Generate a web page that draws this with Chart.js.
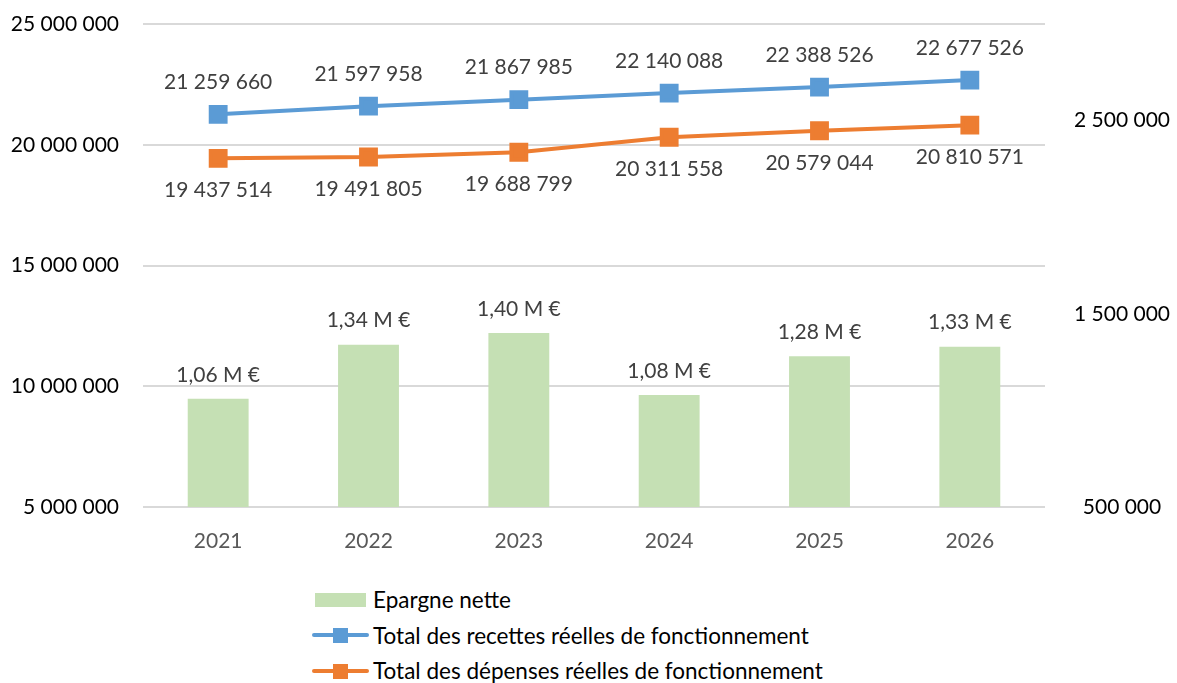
<!DOCTYPE html>
<html lang="fr">
<head>
<meta charset="utf-8">
<title>Epargne nette</title>
<script src="https://cdn.jsdelivr.net/npm/chart.js@4.4.1/dist/chart.umd.min.js"></script>
<style>
  body { margin: 0; background: #fff; font-family: Lato, 'Open Sans', sans-serif; }
  .wrap { position: relative; width: 1177px; height: 683px; }
  #chart { display: block; }
  .legend { position: absolute; left: 312px; top: 582px; }
  .legend-item { display: flex; align-items: center; height: 35.5px; font-size: 22.5px; color: #000; }
  .swatch { width: 57px; height: 14px; position: relative; margin-right: 4px; }
  .swatch.bar { background: #C5E0B4; width: 51px; margin-left: 3px; margin-right: 7px; }
  .swatch.line::before { content: ''; position: absolute; left: 0; right: 0; top: 5px; height: 4px; border-radius: 2px; }
  .swatch.line::after { content: ''; position: absolute; left: 21px; top: 0; width: 15px; height: 15px; }
  .blue::before, .blue::after { background: #5B9BD5; }
  .orange::before, .orange::after { background: #ED7D31; }
</style>
</head>
<body>
<div class="wrap">
  <canvas id="chart" width="1177" height="570"></canvas>
  <div class="legend">
    <div class="legend-item"><span class="swatch bar"></span>Epargne nette</div>
    <div class="legend-item"><span class="swatch line blue"></span>Total des recettes réelles de fonctionnement</div>
    <div class="legend-item"><span class="swatch line orange"></span>Total des dépenses réelles de fonctionnement</div>
  </div>
</div>
<script>
const years = ['2021', '2022', '2023', '2024', '2025', '2026'];
const recettes = [21259660, 21597958, 21867985, 22140088, 22388526, 22677526];
const depenses = [19437514, 19491805, 19688799, 20311558, 20579044, 20810571];
const epargne = [1060000, 1340000, 1400000, 1080000, 1280000, 1330000];
const leftTicks = [5000000, 10000000, 15000000, 20000000, 25000000];
const rightTicks = [500000, 1500000, 2500000];

function formatSpace(v) {
  return String(Math.round(v)).replace(/\B(?=(\d{3})+(?!\d))/g, ' ');
}

function formatMillions(v) {
  return (v / 1000000).toFixed(2).replace('.', ',') + ' M €';
}

// draws the value labels next to each point / bar
const valueLabels = {
  id: 'valueLabels',
  afterDatasetsDraw(chart) {
    const ctx = chart.ctx;
    ctx.save();
    ctx.font = '21px Lato, sans-serif';
    ctx.fillStyle = '#404040';
    ctx.textAlign = 'center';
    ctx.textBaseline = 'middle';
    chart.data.datasets.forEach((ds, i) => {
      const meta = chart.getDatasetMeta(i);
      meta.data.forEach((el, j) => {
        const v = ds.data[j];
        let text, y;
        if (ds.type === 'bar') {
          text = formatMillions(v);
          y = el.y - 24;
        } else {
          text = formatSpace(v);
          y = el.y + ds.labelOffset;
        }
        ctx.fillText(text, el.x, y);
      });
    });
    ctx.restore();
  }
};

// fixed axis sizes, and no extra padding from the tick labels
function fixWidth(w) {
  return s => {
    s.width = w;
    s.paddingTop = 0;
    s.paddingBottom = 0;
  };
}

const ctx = document.getElementById('chart').getContext('2d');
new Chart(ctx, {
  data: {
    labels: years,
    datasets: [
      {
        type: 'line',
        label: 'Total des recettes réelles de fonctionnement',
        data: recettes,
        yAxisID: 'y',
        borderColor: '#5B9BD5',
        backgroundColor: '#5B9BD5',
        borderWidth: 4,
        pointStyle: 'rect',
        pointRadius: 10.5,
        pointHoverRadius: 10.5,
        tension: 0,
        labelOffset: -32,
        order: 1
      },
      {
        type: 'line',
        label: 'Total des dépenses réelles de fonctionnement',
        data: depenses,
        yAxisID: 'y',
        borderColor: '#ED7D31',
        backgroundColor: '#ED7D31',
        borderWidth: 4,
        pointStyle: 'rect',
        pointRadius: 10.5,
        pointHoverRadius: 10.5,
        tension: 0,
        labelOffset: 32,
        order: 2
      },
      {
        type: 'bar',
        label: 'Epargne nette',
        data: epargne,
        yAxisID: 'y2',
        backgroundColor: '#C5E0B4',
        base: 500000,
        categoryPercentage: 1,
        barPercentage: 0.405,
        order: 3
      }
    ]
  },
  options: {
    responsive: false,
    animation: false,
    layout: { padding: { top: 24, left: 0, right: 0, bottom: 0 } },
    plugins: {
      legend: { display: false },
      tooltip: { enabled: false }
    },
    scales: {
      x: {
        grid: { display: false },
        border: { display: false },
        ticks: { color: '#595959', font: { family: 'Lato', size: 21 }, padding: 14 },
        afterFit: s => { s.height = 63; }
      },
      y: {
        position: 'left',
        min: 5000000,
        max: 25000000,
        afterBuildTicks: s => { s.ticks = leftTicks.map(v => ({ value: v })); },
        grid: { color: '#D9D9D9', lineWidth: 2, drawTicks: false },
        border: { display: false },
        ticks: {
          color: '#000',
          font: { family: 'Lato', size: 21 },
          padding: 24,
          callback: v => formatSpace(v)
        },
        afterFit: fixWidth(143)
      },
      y2: {
        position: 'right',
        min: 500000,
        max: 3000000,
        afterBuildTicks: s => { s.ticks = rightTicks.map(v => ({ value: v })); },
        grid: { display: false, drawTicks: false },
        border: { display: false },
        ticks: {
          color: '#000',
          font: { family: 'Lato', size: 21 },
          crossAlign: 'center',
          padding: 29,
          callback: v => formatSpace(v)
        },
        afterFit: fixWidth(132)
      }
    }
  },
  plugins: [valueLabels]
});
</script>
</body>
</html>
